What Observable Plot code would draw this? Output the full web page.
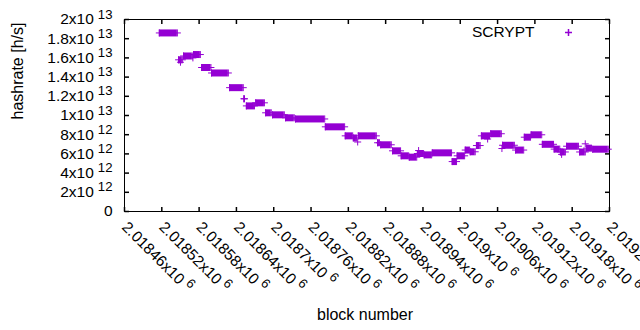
<!DOCTYPE html>
<html><head><meta charset="utf-8">
<script src="https://cdn.jsdelivr.net/npm/d3@7"></script>
<script src="https://cdn.jsdelivr.net/npm/@observablehq/plot@0.6"></script>
<style>
html,body{margin:0;padding:0;background:#fff;}
#chart svg{display:block;}
</style></head><body><div id="chart"></div>
<script>
// Runs of blocks that share (nearly) the same hashrate estimate
const runStart = [2018516,2018547,2018550,2018555,2018570,2018571,2018584,2018600,2018629,2018652,
  2018656,2018671,2018687,2018698,2018719,2018735,2018783,2018815,2018828,2018835,
  2018836,2018867,2018872,2018891,2018905,2018918,2018931,2018933,2018942,2018955,
  2018987,2018995,2019008,2019016,2019026,2019034,2019044,2019049,2019067,2019068,
  2019089,2019103,2019114,2019132,2019151,2019161,2019163,2019171,2019192,2019201,
  2019203,2019213];
const runEnd = [2018545,2018553,2018550,2018569,2018570,2018582,2018599,2018627,2018651,2018653,
  2018669,2018685,2018696,2018717,2018733,2018782,2018814,2018827,2018833,2018835,
  2018865,2018870,2018889,2018904,2018917,2018930,2018941,2018933,2018954,2018986,
  2018994,2019007,2019015,2019024,2019032,2019047,2019044,2019066,2019067,2019087,
  2019102,2019113,2019131,2019150,2019160,2019169,2019163,2019190,2019201,2019201,
  2019211,2019238];
const runValue = [18.6e12,15.8e12,15.55e12,16.2e12,16.0e12,16.35e12,15.0e12,14.43e12,12.9e12,11.74e12,
  11.0e12,11.32e12,10.28e12,10.07e12,9.76e12,9.64e12,8.82e12,7.88e12,7.66e12,7.24e12,
  7.88e12,7.16e12,6.95e12,6.32e12,5.8e12,5.66e12,6.04e12,6.35e12,5.9e12,6.11e12,
  5.2e12,5.8e12,6.4e12,6.22e12,6.87e12,7.88e12,7.55e12,8.1e12,6.56e12,6.9e12,
  6.4e12,7.74e12,7.99e12,7.0e12,6.5e12,6.2e12,5.95e12,6.8e12,6.2e12,7.05e12,
  6.6e12,6.49e12];

const xTicks = [2018460,2018520,2018580,2018640,2018700,2018760,2018820,2018880,2018940,2019000,2019060,2019120,2019180,2019240];
const xTickLabels = ["2.01846x10^6","2.01852x10^6","2.01858x10^6","2.01864x10^6","2.0187x10^6","2.01876x10^6","2.01882x10^6",
  "2.01888x10^6","2.01894x10^6","2.019x10^6","2.01906x10^6","2.01912x10^6","2.01918x10^6","2.01924x10^6"];
const yTicks = [0,2e12,4e12,6e12,8e12,1e13,1.2e13,1.4e13,1.6e13,1.8e13,2e13];
const yTickLabels = ["0","2x10^12","4x10^12","6x10^12","8x10^12","1x10^13","1.2x10^13","1.4x10^13","1.6x10^13","1.8x10^13","2x10^13"];
const seriesName = "SCRYPT";
const xTitle = "block number";
const yTitle = "hashrate [h/s]";

const purple = "#9400d3";
const FONT = "'Liberation Sans', Arial, sans-serif";
const FS = 15.5;

const runs = runStart.map((s, i) => ({start: s, end: runEnd[i], value: runValue[i]}));
const points = runs.flatMap(r => r.start === r.end ? [{block: r.start, value: r.value}]
  : [{block: r.start, value: r.value}, {block: r.end, value: r.value}]);

const xLabelOf = new Map(xTicks.map((t, i) => [t, xTickLabels[i]]));
const yLabelOf = new Map(yTicks.map((t, i) => [t, yTickLabels[i]]));

const plusSym = {draw(ctx) { const h = 3.5; ctx.moveTo(-h, 0); ctx.lineTo(h, 0); ctx.moveTo(0, -h); ctx.lineTo(0, h); }};
const tickL = {draw(ctx) { ctx.moveTo(0, 0); ctx.lineTo(4.5, 0); }};
const tickR = {draw(ctx) { ctx.moveTo(0, 0); ctx.lineTo(-4.5, 0); }};
const tickB = {draw(ctx) { ctx.moveTo(0, 0); ctx.lineTo(0, -4.5); }};
const tickT = {draw(ctx) { ctx.moveTo(0, 0); ctx.lineTo(0, 4.5); }};

const chart = Plot.plot({
  width: 640, height: 330,
  marginLeft: 124, marginRight: 31, marginTop: 19, marginBottom: 119,
  style: {fontFamily: FONT, fontSize: FS + "px", color: "#000", background: "#fff"},
  x: {domain: [2018460, 2019240], axis: null},
  y: {domain: [0, 2e13], axis: null},
  marks: [
    Plot.frame({stroke: "#000"}),
    Plot.dot(yTicks, {y: d => d, frameAnchor: "left", symbol: tickL, stroke: "#000", fill: "none"}),
    Plot.dot(yTicks, {y: d => d, frameAnchor: "right", symbol: tickR, stroke: "#000", fill: "none"}),
    Plot.dot(xTicks, {x: d => d, frameAnchor: "bottom", symbol: tickB, stroke: "#000", fill: "none"}),
    Plot.dot(xTicks, {x: d => d, frameAnchor: "top", symbol: tickT, stroke: "#000", fill: "none"}),
    Plot.axisY(yTicks, {anchor: "left", tickSize: 0, tickPadding: 12, tickFormat: d => yLabelOf.get(d), label: null, fontSize: FS}),
    Plot.axisX(xTicks, {anchor: "bottom", tickSize: 0, tickPadding: 13, tickRotate: 45, textAnchor: "start", lineAnchor: "middle",
      tickFormat: d => xLabelOf.get(d), label: null, fontSize: FS}),
    Plot.ruleY(runs, {y: "value", x1: "start", x2: "end", stroke: purple, strokeWidth: 7}),
    Plot.dot(points, {x: "block", y: "value", symbol: plusSym, stroke: purple, fill: "none", strokeWidth: 1}),
    Plot.text([seriesName], {text: d => d, frameAnchor: "top-right", dx: -75, dy: 13, textAnchor: "end", lineAnchor: "middle", fontSize: FS, fill: "#000"}),
    Plot.dot([seriesName], {frameAnchor: "top-right", dx: -41, dy: 13, symbol: plusSym, stroke: purple, fill: "none"}),
    Plot.text([yTitle], {text: d => d, frameAnchor: "left", dx: -107, dy: 4, rotate: -90, fontSize: 16, fill: "#000"}),
    Plot.text([xTitle], {text: d => d, frameAnchor: "bottom", dx: -2, dy: 108, fontSize: 16, fill: "#000"})
  ]
});

// superscript exponents in tick labels written as "a^b"
d3.select(chart).selectAll("text").each(function() {
  const t = this.textContent;
  if (!t || t.indexOf("^") < 0) return;
  const [base, exp] = t.split("^");
  const el = d3.select(this);
  el.text(null);
  el.append("tspan").text(base);
  el.append("tspan").attr("dx", "4").attr("dy", "-0.45em").attr("font-size", "0.85em").text(exp);
});

document.getElementById("chart").appendChild(chart);
</script></body></html>
